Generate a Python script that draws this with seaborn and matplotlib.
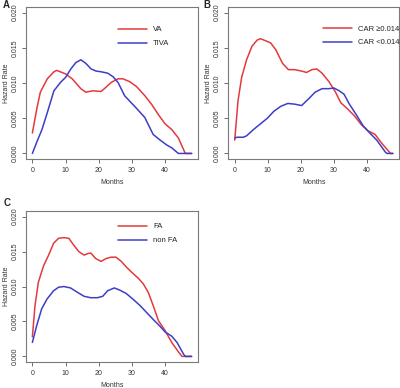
import numpy as np
import pandas as pd
import seaborn as sns
import matplotlib.pyplot as plt

# Panel A: anaesthesia type
a_va_m = [0, 1.4, 2.4, 4.5, 6.5, 7.3, 10, 12, 14.6, 16.1, 18.2, 20.7, 21.7, 23.8, 25.8, 27.3,
          29.3, 31.4, 33.9, 35.9, 38, 40, 42, 44, 45.9, 46.1, 48]
a_va = [0.0029, 0.0065, 0.0087, 0.0106, 0.0116, 0.0118, 0.0113, 0.0106, 0.0092, 0.0087, 0.0089,
        0.0088, 0.0092, 0.0101, 0.0106, 0.0106, 0.0102, 0.0095, 0.0082, 0.0070, 0.0055, 0.0042,
        0.0034, 0.0022, 0.0002, 0.0, 0.0]
a_tiva_m = [0, 1.4, 2.9, 4.5, 6.5, 8.5, 10, 11.6, 13.1, 14.6, 16.1, 17.7, 19.2, 20.7, 22.7, 24.3,
            25.8, 27.8, 29.8, 31.4, 33.9, 36.4, 38.5, 40.5, 42, 44, 48]
a_tiva = [0.0, 0.0017, 0.0034, 0.0058, 0.0089, 0.0101, 0.0108, 0.0120, 0.0129, 0.0133, 0.0128,
          0.0120, 0.0117, 0.0116, 0.0114, 0.0109, 0.0101, 0.0082, 0.0072, 0.0064, 0.0051, 0.0027,
          0.0019, 0.0012, 0.0008, 0.0, 0.0]

# Panel B: CAR
b_hi_m = [0, 1, 2.1, 3.6, 5.2, 6.8, 7.8, 9.4, 10.9, 12.5, 14.5, 16.3, 18.2, 20.3, 21.8, 23.4, 24.9,
          26.5, 28.6, 30.6, 32.2, 34.3, 36.4, 38.4, 40.5, 42.6, 44.7, 47.3, 48]
b_hi = [0.0019, 0.0075, 0.0108, 0.0133, 0.0152, 0.0161, 0.0163, 0.0160, 0.0157, 0.0147, 0.0128,
        0.0119, 0.0119, 0.0117, 0.0115, 0.0119, 0.0120, 0.0114, 0.0102, 0.0087, 0.0072, 0.0063,
        0.0053, 0.0041, 0.0032, 0.0027, 0.0014, 0.0, 0.0]
b_lo_m = [0, 0.7, 2.6, 3.6, 5.7, 7.8, 9.9, 11.9, 14, 16.1, 18.2, 20.3, 22.3, 24.4, 26.5, 28.6, 30.1,
          31.7, 33.2, 34.8, 36.9, 39, 41, 43.1, 45.7, 46.2, 48]
b_lo = [0.0022, 0.0023, 0.0023, 0.0025, 0.0034, 0.0042, 0.0050, 0.0060, 0.0067, 0.0071, 0.0070,
        0.0068, 0.0077, 0.0087, 0.0092, 0.0092, 0.0093, 0.0089, 0.0084, 0.0070, 0.0055, 0.0039,
        0.0029, 0.0019, 0.0002, 0.0, 0.0]

# Panel C: FA
c_fa_m = [0, 0.8, 1.8, 3.4, 4.9, 6.4, 7.9, 9.5, 11, 12.5, 14, 15.6, 16.6, 17.6, 19.1, 20.7, 22.2,
          23.7, 25.2, 26.8, 28.3, 29.8, 31.9, 33.4, 34.9, 36.4, 38, 40, 42, 44.1, 45.1, 48]
c_fa = [0.0028, 0.0073, 0.0106, 0.0130, 0.0145, 0.0162, 0.0169, 0.0170, 0.0169, 0.0159, 0.0150,
        0.0145, 0.0147, 0.0148, 0.0140, 0.0136, 0.0140, 0.0142, 0.0142, 0.0136, 0.0128, 0.0121,
        0.0112, 0.0104, 0.0092, 0.0073, 0.0051, 0.0037, 0.0020, 0.0006, 0.0, 0.0]
c_non_m = [0, 1.3, 2.8, 4.4, 6.4, 7.9, 9.5, 11.5, 13.5, 15.6, 17.6, 19.6, 21.2, 22.7, 24.7, 26.3,
           28.3, 30.3, 32.4, 34.4, 36.4, 38.5, 40, 42, 43.6, 45.6, 46.1, 48]
c_non = [0.0020, 0.0044, 0.0068, 0.0082, 0.0094, 0.0099, 0.0100, 0.0098, 0.0092, 0.0086, 0.0084,
         0.0084, 0.0086, 0.0094, 0.0098, 0.0095, 0.0090, 0.0082, 0.0073, 0.0063, 0.0053, 0.0043,
         0.0035, 0.0029, 0.0020, 0.0003, 0.0, 0.0]

yticks = [0.0, 0.005, 0.010, 0.015, 0.020]
ytick_labels = ['0.000', '0.005', '0.010', '0.015', '0.020']
xticks = [0, 10, 20, 30, 40]

RED = '#e23a3d'
BLUE = '#3d3ec6'

sns.set_style('ticks')
plt.rcParams['font.family'] = ['Liberation Sans', 'DejaVu Sans']

fig = plt.figure(figsize=(4, 3.88), dpi=100)

# letter, axes rect, series 1, series 2, legend anchor, letter position
panels = [
    ('A', [0.065, 0.590, 0.430, 0.392], (a_va_m, a_va, 'VA'), (a_tiva_m, a_tiva, 'TIVA'),
     (0.535, 0.875), (0.008, 0.987)),
    ('B', [0.571, 0.590, 0.427, 0.392], (b_hi_m, b_hi, 'CAR \u22650.014'), (b_lo_m, b_lo, 'CAR <0.014'),
     (0.555, 0.88), (0.508, 0.987)),
    ('C', [0.065, 0.067, 0.430, 0.389], (c_fa_m, c_fa, 'FA'), (c_non_m, c_non, 'non FA'),
     (0.535, 0.92), (0.008, 0.478)),
]

for letter, pos, s1, s2, leg_xy, let_xy in panels:
    ax = fig.add_axes(pos)
    sns.lineplot(x=s1[0], y=s1[1], color=RED, label=s1[2], lw=1.1, ax=ax, sort=False)
    sns.lineplot(x=s2[0], y=s2[1], color=BLUE, label=s2[2], lw=1.1, ax=ax, sort=False)
    ax.set_xlim(-1.92, 49.92)
    ax.set_ylim(-0.0008, 0.0208)
    ax.set_xticks(xticks)
    ax.set_xticklabels([str(t) for t in xticks], fontsize=5, color='#333333')
    ax.set_yticks(yticks)
    ax.set_yticklabels(ytick_labels, fontsize=5, rotation=90, va='center', color='#333333')
    ax.tick_params(length=3, width=0.6, color='#555555', pad=2.5)
    for sp in ax.spines.values():
        sp.set_visible(True)
        sp.set_color('#7a7a7a')
        sp.set_linewidth(0.8)
    ax.set_xlabel('Months', fontsize=5, color='#333333', labelpad=4)
    ax.set_ylabel('Hazard Rate', fontsize=5, color='#333333', labelpad=1)
    ax.legend(loc='upper left', bbox_to_anchor=leg_xy, frameon=False, fontsize=5.5,
              handlelength=3.8, handletextpad=0.8, labelspacing=0.85, borderpad=0, borderaxespad=0)
    fig.text(let_xy[0], let_xy[1], letter, fontsize=7, fontweight='bold', ha='left', va='center')

fig.savefig('out.png', dpi=100)
